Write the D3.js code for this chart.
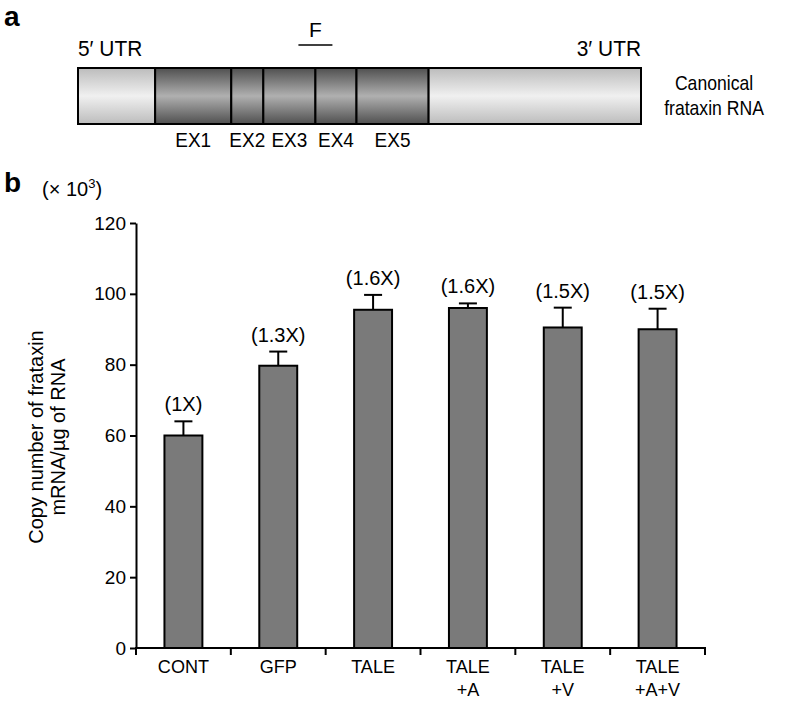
<!DOCTYPE html>
<html><head><meta charset="utf-8">
<script src="https://cdn.jsdelivr.net/npm/d3@7"></script>
<style>body{margin:0;background:#fff}svg{display:block}</style>
</head><body>
<script>
// ---- data ----
const categories = ["CONT","GFP","TALE","TALE\n+A","TALE\n+V","TALE\n+A+V"];
const values = [60, 79.7, 95.5, 96, 90.5, 90];
const errors = [4, 4, 4.2, 1.3, 5.6, 5.8];
const foldLabels = ["(1X)","(1.3X)","(1.6X)","(1.6X)","(1.5X)","(1.5X)"];
const yTicks = [0,20,40,60,80,100,120];
// panel a segments (relative lengths along transcript)
const segments = ["5′UTR","EX1","EX2","EX3","EX4","EX5","3′UTR"];
const segmentLengths = [77, 76, 32, 52, 41, 72, 212];
const exonLabels = ["EX1","EX2","EX3","EX4","EX5"];

const W=787,H=703;
const svg=d3.select("body").append("svg").attr("width",W).attr("height",H);
const defs=svg.append("defs");
function grad(id,edge,mid){
  const g=defs.append("linearGradient").attr("id",id).attr("x1",0).attr("x2",0).attr("y1",0).attr("y2",1);
  g.append("stop").attr("offset","0%").attr("stop-color",edge);
  g.append("stop").attr("offset","50%").attr("stop-color",mid);
  g.append("stop").attr("offset","100%").attr("stop-color",edge);
}
grad("utr","#bcbcbc","#f0f0f0");
grad("exon","#505050","#b0b0b0");

const sans="'Liberation Sans', Arial, Helvetica, sans-serif";

// text helper with optional horizontal condensing
function ctext(parent,x,y,str,size,anchor,sx){
  return parent.append("text").attr("transform",`translate(${x},${y}) scale(${sx||1},1)`)
    .attr("text-anchor",anchor||"middle").attr("font-family",sans).attr("font-size",size).text(str);
}

// panel labels
svg.append("text").attr("x",4).attr("y",26).attr("font-family",sans).attr("font-weight","bold").attr("font-size",28).text("a");
svg.append("text").attr("x",4).attr("y",192).attr("font-family",sans).attr("font-weight","bold").attr("font-size",28).text("b");

// ---- panel a ----
const total=d3.sum(segmentLengths);
const xa=d3.scaleLinear().domain([0,total]).range([78,641]);
const starts=d3.cumsum([0,...segmentLengths]);
const gA=svg.append("g");
gA.selectAll("rect.seg").data(segments).join("rect")
  .attr("x",(d,i)=>xa(starts[i])).attr("y",68)
  .attr("width",(d,i)=>xa(starts[i+1])-xa(starts[i])).attr("height",56)
  .attr("fill",(d,i)=>(i===0||i===segments.length-1)?"url(#utr)":"url(#exon)")
  .attr("stroke","#000").attr("stroke-width",2);
exonLabels.forEach((d,i)=>ctext(gA,(xa(starts[i+1])+xa(starts[i+2]))/2,147,d,20,"middle",0.95));
ctext(gA,78,56,"5′ UTR",22,"start",0.95);
ctext(gA,641,56,"3′ UTR",22,"end",0.95);
// primer F over EX3/EX4 boundary
const fx=xa(starts[4]);
gA.append("line").attr("x1",fx-17).attr("x2",fx+17).attr("y1",45).attr("y2",45).attr("stroke","#000").attr("stroke-width",1.5);
ctext(gA,fx,37,"F",21);
ctext(gA,714,90,"Canonical",20,"middle",0.88);
ctext(gA,714,115,"frataxin RNA",20,"middle",0.88);

// ---- panel b ----
const x=d3.scaleBand().domain(categories).range([136,705]).paddingInner(0.6).paddingOuter(0.3);
const y=d3.scaleLinear().domain([0,120]).range([648,223]);
const g=svg.append("g");

// y axis
const yAxis=g.append("g").attr("transform","translate(136,0)")
  .call(d3.axisLeft(y).tickValues(yTicks).tickSize(6).tickPadding(4).tickSizeOuter(0));
yAxis.select(".domain").attr("stroke-width",2);
yAxis.selectAll(".tick line").attr("stroke-width",2);
yAxis.selectAll("text").attr("font-family",sans).attr("font-size",19).attr("fill","#000");

// x axis line with ticks at category boundaries
g.append("line").attr("x1",135).attr("x2",706).attr("y1",y(0)).attr("y2",y(0)).attr("stroke","#000").attr("stroke-width",2);
const bounds=d3.range(categories.length+1).map(i=>136+i*(569/categories.length));
g.selectAll("line.xt").data(bounds).join("line")
  .attr("x1",d=>d).attr("x2",d=>d).attr("y1",y(0)).attr("y2",y(0)+7).attr("stroke","#000").attr("stroke-width",2);

// bars
g.selectAll("rect.bar").data(categories).join("rect")
  .attr("x",d=>x(d)).attr("width",x.bandwidth())
  .attr("y",(d,i)=>y(values[i])).attr("height",(d,i)=>y(0)-y(values[i]))
  .attr("fill","#7a7a7a").attr("stroke","#000").attr("stroke-width",2);
// error bars
const cx=d=>x(d)+x.bandwidth()/2;
g.selectAll("line.err").data(categories).join("line")
  .attr("x1",cx).attr("x2",cx).attr("y1",(d,i)=>y(values[i])).attr("y2",(d,i)=>y(values[i]+errors[i]))
  .attr("stroke","#000").attr("stroke-width",2);
g.selectAll("line.cap").data(categories).join("line")
  .attr("x1",d=>cx(d)-9).attr("x2",d=>cx(d)+9).attr("y1",(d,i)=>y(values[i]+errors[i])).attr("y2",(d,i)=>y(values[i]+errors[i]))
  .attr("stroke","#000").attr("stroke-width",2);
// fold labels
g.selectAll("text.fold").data(categories).join("text")
  .attr("x",cx).attr("y",(d,i)=>y(values[i]+errors[i])-10)
  .attr("text-anchor","middle").attr("font-family",sans).attr("font-size",20).text((d,i)=>foldLabels[i]);
// category labels
categories.forEach(c=>{
  c.split("\n").forEach((line,j)=>ctext(g,cx(c),673+j*23,line,19,"middle",0.95));
});

// y axis title
const yt=g.append("text").attr("transform","translate(43,437) rotate(-90)").attr("text-anchor","middle")
  .attr("font-family",sans).attr("font-size",20);
yt.append("tspan").attr("x",0).attr("dy",0).text("Copy number of frataxin");
yt.append("tspan").attr("x",0).attr("dy",22).text("mRNA/µg of RNA");

// unit label
const u=g.append("text").attr("x",42).attr("y",196).attr("font-family",sans).attr("font-size",20);
u.append("tspan").text("(× 10");
u.append("tspan").attr("dy",-8).attr("font-size",13).text("3");
u.append("tspan").attr("dy",8).text(")");
</script>
</body></html>
